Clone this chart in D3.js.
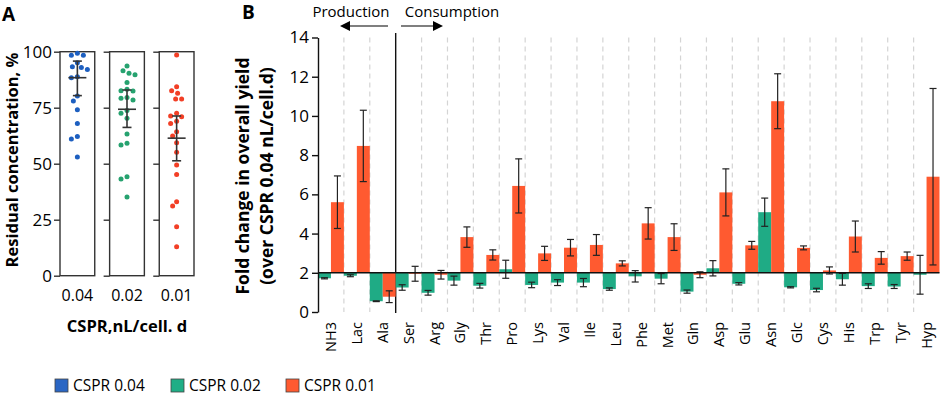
<!DOCTYPE html>
<html>
<head>
<meta charset="utf-8">
<script src="https://cdn.jsdelivr.net/npm/d3@7"></script>
<style>
    body { margin: 0; background: #fff; }
    svg text { font-family: "Open Sans", sans-serif; fill: #000; }
    .boldText { font-weight: bold; }
</style>
</head>
<body>
<div id="chart"></div>
<script>

// Panel A: residual concentration per CSPR
let cspr = ["0.04", "0.02", "0.01"];
let residual04 = [99.3, 98.4, 98.4, 95.1, 93.3, 93.0, 92.1, 88.8, 88.4, 80.2, 78.0, 74.1, 68.0, 62.1, 61.0, 53.0];
let residual02 = [93.6, 91.5, 90.4, 89.7, 86.3, 83.2, 82.6, 82.5, 79.5, 79.2, 78.4, 73.7, 72.5, 70.3, 63.3, 59.1, 58.3, 44.2, 43.2, 35.1];
let residual01 = [98.5, 84.4, 82.6, 81.4, 78.9, 78.9, 72.5, 71.3, 71.0, 69.0, 68.0, 64.3, 62.4, 59.4, 55.1, 49.4, 45.2, 33.0, 31.1, 21.9, 12.9];
let residualMid = [88.4, 74.3, 61.4];
let residualLow = [80.4, 66.2, 51.3];
let residualHigh = [95.8, 82.9, 71.3];
let residualTicks = [0, 25, 50, 75, 100];

// Panel B: fold change in overall yield
let metabolites = ["NH3","Lac","Ala","Ser","Arg","Gly","Thr","Pro","Lys","Val","Ile","Leu",
    "Phe","Met","Gln","Asp","Glu","Asn","Glc","Cys","His","Trp","Tyr","Hyp"];
let fold02 = [1.72, 1.85, 0.55, 1.25, 0.98, 1.60, 1.34, 2.18, 1.38, 1.50, 1.50, 1.17,
    1.82, 1.70, 1.04, 2.23, 1.44, 5.09, 1.26, 1.12, 1.67, 1.32, 1.30, 1.90];
let err02 = [0.03, 0.05, 0.02, 0.14, 0.12, 0.23, 0.12, 0.46, 0.14, 0.15, 0.21, 0.06,
    0.29, 0.26, 0.08, 0.39, 0.06, 0.72, 0.03, 0.09, 0.30, 0.12, 0.10, 0.99];
let fold01 = [5.60, 8.47, 0.78, 1.95, 1.90, 3.82, 2.91, 6.43, 2.99, 3.28, 3.42, 2.48,
    4.52, 3.82, 1.90, 6.10, 3.40, 10.75, 3.27, 2.12, 3.85, 2.76, 2.85, 6.90];
let err01 = [1.34, 1.82, 0.30, 0.38, 0.22, 0.52, 0.26, 1.38, 0.36, 0.42, 0.53, 0.13,
    0.80, 0.68, 0.15, 1.20, 0.20, 1.40, 0.10, 0.18, 0.79, 0.32, 0.21, 4.50];
let foldTicks = [0, 2, 4, 6, 8, 10, 12, 14];

let legendKeys = ["CSPR 0.04", "CSPR 0.02", "CSPR 0.01"];
let dotColors = ["#1d5fc0", "#26a26f", "#f23f26"];
let legendColors = ["#2a66c4", "#1fae86", "#ff5a30"];
let barColors = {g: "#1fab85", r: "#ff5a30"};

let svg = d3.select("#chart").append("svg")
    .attr("width", 941)
    .attr("height", 395);

/* ---------- Panel A ---------- */
{
    let x = d3.scaleBand().domain(cspr).range([60, 194]).paddingInner(0.3);
    let y = d3.scaleLinear().domain([0, 100]).range([275.7, 51.7]);
    let groups = [residual04, residual02, residual01];

    svg.append("text").text("A").attr("class", "boldText")
        .attr("x", 2).attr("y", 21).attr("font-size", 19);

    cspr.forEach(function (key, i) {
        let left = x(key);
        let g = svg.append("g");

        // tick marks (labels only on the first box)
        let axis = d3.axisLeft(y).tickValues(residualTicks).tickSize(6).tickSizeOuter(0)
            .tickFormat(i === 0 ? d3.format("d") : "");
        let ax = g.append("g").attr("transform", "translate(" + left + ",0)").call(axis);
        ax.select(".domain").remove();
        ax.selectAll("line").attr("stroke", "#333").attr("stroke-width", 1.4);
        ax.selectAll("text").attr("font-size", 17).attr("font-family", "Open Sans").attr("x", -8);

        g.append("rect")
            .attr("x", left).attr("y", y(100))
            .attr("width", x.bandwidth()).attr("height", y(0) - y(100))
            .attr("fill", "none").attr("stroke", "#333").attr("stroke-width", 1.4);

        // simple beeswarm so the dots do not overlap
        let cx = left + x.bandwidth() / 2;
        let r = 2.5;
        let placed = [];
        groups[i].slice().sort(function (a, b) { return b - a; }).forEach(function (v) {
            let py = y(v);
            let off = 0;
            for (let k = 0; k < 40; k++) {
                let cand = (k % 2 === 0 ? 1 : -1) * Math.ceil(k / 2);
                let ok = placed.every(function (p) {
                    return Math.hypot(p.x - (cx + cand), p.y - py) >= 2 * r + 0.8;
                });
                if (ok) { off = cand; break; }
            }
            placed.push({x: cx + off, y: py});
        });
        g.selectAll("circle").data(placed).enter().append("circle")
            .attr("cx", function (d) { return d.x; })
            .attr("cy", function (d) { return d.y; })
            .attr("r", r)
            .attr("fill", dotColors[i]);

        // median line and error bar
        g.append("line").attr("x1", cx - 9).attr("x2", cx + 9)
            .attr("y1", y(residualMid[i])).attr("y2", y(residualMid[i]))
            .attr("stroke", "#333").attr("stroke-width", 1.6);
        g.append("line").attr("x1", cx).attr("x2", cx)
            .attr("y1", y(residualLow[i])).attr("y2", y(residualHigh[i]))
            .attr("stroke", "#333").attr("stroke-width", 1.6);
        [residualLow[i], residualHigh[i]].forEach(function (v) {
            g.append("line").attr("x1", cx - 4.5).attr("x2", cx + 4.5)
                .attr("y1", y(v)).attr("y2", y(v))
                .attr("stroke", "#333").attr("stroke-width", 1.6);
        });

        g.append("text").text(key)
            .attr("x", cx).attr("y", 301)
            .attr("text-anchor", "middle").attr("font-size", 16);
    });

    svg.append("text").text("Residual concentration, %").attr("class", "boldText")
        .attr("transform", "translate(18,160) rotate(-90)")
        .attr("text-anchor", "middle").attr("font-size", 16.5);

    svg.append("text").text("CSPR,nL/cell. d").attr("class", "boldText")
        .attr("x", 127).attr("y", 332)
        .attr("text-anchor", "middle").attr("font-size", 16.5);
}

/* ---------- Panel B ---------- */
{
    let x0 = d3.scaleBand().domain(metabolites).range([318, 939.5]).padding(0);
    let x1 = d3.scaleBand().domain(["g", "r"]).range([0, x0.bandwidth()]).padding(0);
    let y = d3.scaleLinear().domain([0, 14]).range([312, 37.5]);

    svg.append("text").text("B").attr("class", "boldText")
        .attr("x", 242).attr("y", 19).attr("font-size", 19);

    // separators between metabolites
    metabolites.slice(1).forEach(function (m) {
        let solid = (m === "Ser");
        svg.append("line")
            .attr("x1", x0(m)).attr("x2", x0(m))
            .attr("y1", solid ? 33 : y(14)).attr("y2", solid ? 313 : y(0))
            .attr("stroke", solid ? "#111" : "#d4d4d4")
            .attr("stroke-width", solid ? 1.4 : 1.2)
            .attr("stroke-dasharray", solid ? null : "5,4");
    });

    let rows = metabolites.map(function (m, i) {
        return [
            {m: m, key: "g", value: fold02[i], err: err02[i]},
            {m: m, key: "r", value: fold01[i], err: err01[i]}
        ];
    });

    let groups = svg.append("g").selectAll("g")
        .data(rows).enter().append("g")
        .attr("transform", function (d) { return "translate(" + x0(d[0].m) + ",0)"; });

    groups.selectAll("rect")
        .data(function (d) { return d; })
        .enter().append("rect")
        .attr("x", function (d) { return x1(d.key); })
        .attr("y", function (d) { return Math.min(y(d.value), y(2)); })
        .attr("width", x1.bandwidth())
        .attr("height", function (d) { return Math.abs(y(d.value) - y(2)); })
        .attr("fill", function (d) { return barColors[d.key]; });

    // error bars
    let eb = groups.selectAll(".err")
        .data(function (d) { return d; })
        .enter().append("g").attr("class", "err")
        .attr("transform", function (d) { return "translate(" + (x1(d.key) + x1.bandwidth() / 2) + ",0)"; });
    eb.append("line")
        .attr("y1", function (d) { return y(d.value - d.err); })
        .attr("y2", function (d) { return y(d.value + d.err); });
    eb.append("line").attr("x1", -3.5).attr("x2", 3.5)
        .attr("y1", function (d) { return y(d.value - d.err); })
        .attr("y2", function (d) { return y(d.value - d.err); });
    eb.append("line").attr("x1", -3.5).attr("x2", 3.5)
        .attr("y1", function (d) { return y(d.value + d.err); })
        .attr("y2", function (d) { return y(d.value + d.err); });
    eb.selectAll("line").attr("stroke", "#222").attr("stroke-width", 1.2);

    // baseline at fold change 2
    svg.append("line")
        .attr("x1", 318).attr("x2", 939.5)
        .attr("y1", y(2)).attr("y2", y(2))
        .attr("stroke", "#111").attr("stroke-width", 1.6);

    let yAxis = d3.axisLeft(y).tickValues(foldTicks).tickSize(6).tickSizeOuter(0);
    let ay = svg.append("g").attr("transform", "translate(318,0)").call(yAxis);
    ay.select(".domain").attr("stroke", "#111").attr("stroke-width", 1.4);
    ay.selectAll("line").attr("stroke", "#111").attr("stroke-width", 1.4);
    ay.selectAll("text").attr("font-size", 17).attr("font-family", "Open Sans").attr("x", -9);

    // category labels
    svg.selectAll(".catLabel").data(metabolites).enter().append("text")
        .attr("class", "catLabel")
        .text(function (d) { return d; })
        .attr("transform", function (d) {
            return "translate(" + (x0(d) + x0.bandwidth() / 2 + 5) + ",322) rotate(-90)";
        })
        .attr("text-anchor", "end").attr("font-size", 14.5);

    svg.append("text").attr("class", "boldText")
        .attr("transform", "translate(249,176) rotate(-90)")
        .attr("text-anchor", "middle").attr("font-size", 17.5)
        .text("Fold change in overall yield");
    svg.append("text").attr("class", "boldText")
        .attr("transform", "translate(273,176) rotate(-90)")
        .attr("text-anchor", "middle").attr("font-size", 17.5)
        .text("(over CSPR 0.04 nL/cell.d)");

    // production / consumption annotation
    svg.append("text").text("Production").attr("x", 351).attr("y", 16.5)
        .attr("text-anchor", "middle").attr("font-size", 15);
    svg.append("text").text("Consumption").attr("x", 452).attr("y", 16.5)
        .attr("text-anchor", "middle").attr("font-size", 15);
    svg.append("line").attr("x1", 349).attr("x2", 388).attr("y1", 26).attr("y2", 26)
        .attr("stroke", "#000").attr("stroke-width", 1.2);
    svg.append("path").attr("d", "M340,26 L350,21 L350,31 Z").attr("fill", "#000");
    svg.append("line").attr("x1", 401).attr("x2", 434).attr("y1", 26).attr("y2", 26)
        .attr("stroke", "#000").attr("stroke-width", 1.2);
    svg.append("path").attr("d", "M443,26 L433,21 L433,31 Z").attr("fill", "#000");
}

/* ---------- Legend ---------- */
let legendX = [55, 171, 286];
let legend = svg.selectAll(".legend").data(legendKeys).enter().append("g")
    .attr("class", "legend")
    .attr("transform", function (d, i) { return "translate(" + legendX[i] + ",379)"; });
legend.append("rect").attr("width", 13).attr("height", 13)
    .attr("fill", function (d, i) { return legendColors[i]; })
    .attr("stroke", "#444").attr("stroke-width", 0.8);
legend.append("text").text(function (d) { return d; })
    .attr("x", 18).attr("y", 12).attr("font-size", 15.5);

</script>
</body>
</html>
